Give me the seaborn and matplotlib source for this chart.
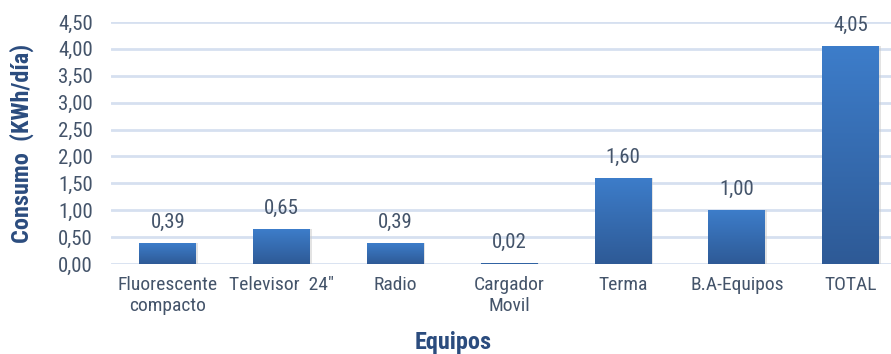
import numpy as np
import pandas as pd
import matplotlib
matplotlib.use("Agg")
import matplotlib.pyplot as plt
import seaborn as sns
from matplotlib.colors import LinearSegmentedColormap
from matplotlib.ticker import FuncFormatter

categories = ["Fluorescente\ncompacto", "Televisor  24\"", "Radio", "Cargador\nMovil",
              "Terma", "B.A-Equipos", "TOTAL"]
consumo = [0.39, 0.65, 0.39, 0.02, 1.60, 1.00, 4.05]
y_ticks = [0.0, 0.5, 1.0, 1.5, 2.0, 2.5, 3.0, 3.5, 4.0, 4.5]

sns.set_theme(style="white")
plt.rcParams["font.family"] = ["Liberation Sans Narrow", "Roboto Condensed",
                               "Archivo Narrow", "DejaVu Sans"]

TEXT = "#44546A"
LABEL = "#2B4C7E"
GRID = "#D6E0F0"

df = pd.DataFrame({"Equipos": categories, "Consumo": consumo})

W, H = 891, 354
fig = plt.figure(figsize=(W / 100, H / 100), dpi=100)
ax = fig.add_axes([111 / W, (H - 264) / H, (W - 111) / W, (264 - 22) / H])

sns.barplot(data=df, x="Equipos", y="Consumo", ax=ax, width=0.5,
            color="#3A75BE", saturation=1, edgecolor="none", zorder=3)

ax.set_ylim(0, 4.5)
ax.set_xlim(-0.5, -0.5 + (W - 111) / 113.8)

# vertical gradient fill on each bar
cmap = LinearSegmentedColormap.from_list("bar", ["#2E5A96", "#3D7DCA"])
grad = np.linspace(0, 1, 256).reshape(-1, 1)
for patch in list(ax.patches):
    x0, y0 = patch.get_x(), patch.get_y()
    w, h = patch.get_width(), patch.get_height()
    # soft shadow to the right
    ax.add_patch(plt.Rectangle((x0 + 0.012, y0), w, h, color="#C8C8C8",
                               alpha=0.5, zorder=2, lw=0))
    im = ax.imshow(grad, cmap=cmap, origin="lower", aspect="auto",
                   extent=(x0, x0 + w, y0, y0 + h), zorder=4)
    im.set_clip_path(patch)
    ax.annotate(f"{h:.2f}".replace(".", ","), (x0 + w / 2, h),
                xytext=(0, 8), textcoords="offset points",
                ha="center", va="bottom", fontsize=15, color=TEXT, zorder=5)

ax.set_yticks(y_ticks)
ax.yaxis.set_major_formatter(FuncFormatter(lambda v, p: f"{v:.2f}".replace(".", ",")))
ax.grid(axis="y", color=GRID, linewidth=2, zorder=0)
ax.grid(axis="x", visible=False)
for side in ["top", "right", "left", "bottom"]:
    ax.spines[side].set_visible(False)
ax.tick_params(axis="y", length=0, labelsize=15, colors=TEXT, pad=13)
ax.tick_params(axis="x", length=0, labelsize=14, colors=TEXT, pad=9)
for lab in ax.get_yticklabels():
    lab.set_clip_on(False)

ax.set_xlabel("Equipos", fontsize=17.5, fontweight="bold", color=LABEL)
ax.set_ylabel("Consumo  (KWh/día)", fontsize=17.5, fontweight="bold", color=LABEL)
ax.xaxis.set_label_coords((453 - 111) / (W - 111), -(342 - 264) / 242)
ax.yaxis.set_label_coords((22 - 111) / (W - 111), 0.5)
ax.xaxis.label.set_va("center")
ax.yaxis.label.set_va("center")

fig.savefig("out.png", dpi=100)
